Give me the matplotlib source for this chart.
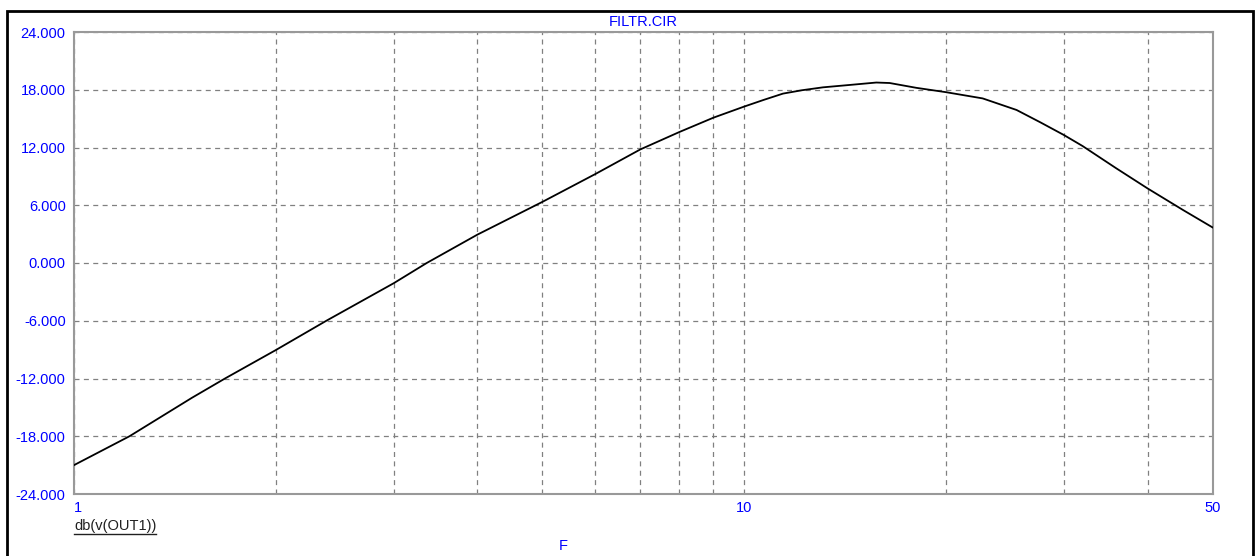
import matplotlib
matplotlib.use("Agg")
import matplotlib.pyplot as plt
from matplotlib.patches import Rectangle
from matplotlib.lines import Line2D

plt.rcParams['font.family'] = ['Liberation Sans', 'DejaVu Sans']

# values (frequency, dB)
freq = [1, 1.21, 1.5, 1.68, 2, 2.38, 3, 3.36, 4, 5, 6, 7, 8, 9, 10, 10.7,
        11.43, 12.2, 13.11, 14.38, 15.75, 16.49, 18.07, 20, 22.7, 25.5,
        27.7, 30, 32, 35.9, 40, 45.2, 50]
db_out1 = [-21.0, -18.0, -14.0, -12.0, -9.05, -6.0, -2.1, 0.0, 2.95, 6.35,
           9.25, 11.8, 13.6, 15.1, 16.25, 16.95, 17.6, 17.95, 18.25, 18.5,
           18.75, 18.7, 18.2, 17.75, 17.1, 15.9, 14.6, 13.3, 12.15, 9.85,
           7.75, 5.5, 3.7]

x_major = [1, 10, 50]
x_major_labels = ['1', '10', '50']
x_minor = [2, 3, 4, 5, 6, 7, 8, 9, 20, 30, 40]
y_ticks = [-24, -18, -12, -6, 0, 6, 12, 18, 24]

blue = '#0000ff'
grid_col = '#808080'

fig = plt.figure(figsize=(12.6, 5.56), dpi=100)
fig.patch.set_facecolor('white')
ax = fig.add_axes([74/1260, 1-494/556, (1212.5-74)/1260, (494-32)/556])

ax.plot(freq, db_out1, color='black', lw=1.3, zorder=3)

ax.set_xscale('log')
ax.set_xlim(1, 50)
ax.set_ylim(-24, 24)

ax.set_xticks(x_major)
ax.set_xticklabels(x_major_labels)
ax.set_xticks(x_minor, minor=True)
ax.set_xticklabels([], minor=True)
ax.set_yticks(y_ticks)
ax.set_yticklabels([f"{v:.3f}" for v in y_ticks])

ax.tick_params(which='both', length=0, colors=blue, labelsize=10.5)
ax.tick_params(axis='x', pad=5)
ax.tick_params(axis='y', pad=6)
xl = ax.get_xticklabels()
xl[0].set_ha('left')

ax.grid(True, which='both', color=grid_col, lw=0.9, linestyle=(0, (4, 3.5)))
for s in ax.spines.values():
    s.set_color('#999999')
    s.set_linewidth(1.5)

ax.set_title('FILTR.CIR', color=blue, fontsize=10.5, pad=4)

fig.text(563.5/1260, 1-545.5/556, 'F', color=blue, fontsize=10.5,
         ha='center', va='center')
lbl = fig.text(74/1260, 1-526/556, 'db(v(OUT1))', color='#202020',
               fontsize=10.5, ha='left', va='center')

# outer black frame
fig.add_artist(Rectangle((7/1260, -0.05), (1253-7)/1260, 0.05+1-11/556,
                         transform=fig.transFigure, fill=False,
                         edgecolor='black', lw=2))

# underline for the trace name
fig.canvas.draw()
bb = lbl.get_window_extent()
fig.add_artist(Line2D([bb.x0, bb.x1], [bb.y0 - 1, bb.y0 - 1],
                      transform=None, color='#202020', lw=1))

fig.savefig('out.png', dpi=100)
